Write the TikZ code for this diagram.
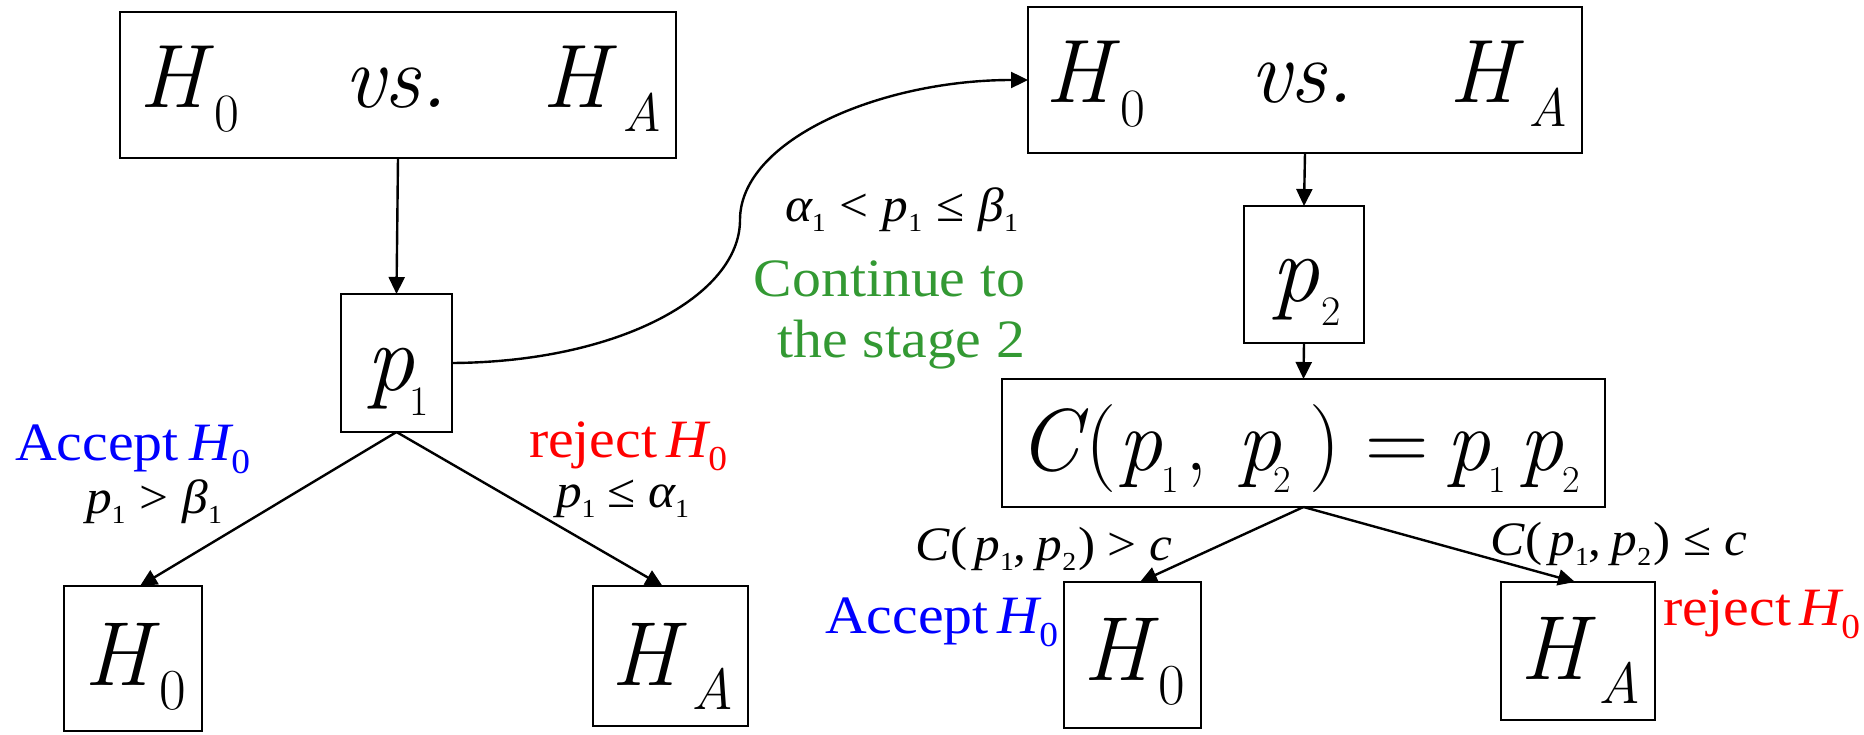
\documentclass[tikz,border=0pt]{standalone}
\usepackage{fontspec}
\newfontfamily\pal[FakeStretch=1.07]{Liberation Serif}
\usetikzlibrary{arrows.meta}
\definecolor{grn}{RGB}{51,153,51}
\definecolor{bluL}{RGB}{0,0,255}
\definecolor{redL}{RGB}{255,0,0}
\newcommand{\fb}[1]{\rmfamily\fontsize{#1pt}{#1pt}\selectfont}
\newcommand{\fs}[1]{\pal\fontsize{#1pt}{#1pt}\selectfont}
\newcommand{\lo}[3]{\raisebox{-#2pt}{\fs{#1}#3}}
\newcommand{\lb}[3]{\raisebox{-#2pt}{\fb{#1}#3}}
\newcommand{\pc}[2]{\makebox[#1pt][l]{#2}}
\newcommand{\HvsH}{\pc{75}{\fb{90}\itshape H}\pc{130}{\lb{54}{24}{\upshape 0}}\pc{199}{\fb{90}\itshape vs.}\pc{79}{\fb{90}\itshape H}\lb{54}{24}{\itshape A}}
\newcommand{\sbo}[1]{\lo{26}{10}{\upshape #1}}
\newcommand{\Cpp}{\itshape C\hspace{1pt}\upshape(\hspace{7pt}\itshape p\sbo{1}\upshape,\hspace{10pt}\itshape p\sbo{2}\hspace{2pt}\upshape)}
\begin{document}
\begin{tikzpicture}[x=1pt,y=-1pt,
  box/.style={draw, line width=2.4pt, inner sep=0pt, outer sep=0pt},
  conn/.style={line width=2.4pt, -{Triangle[length=17pt,width=16pt]}},
  txt/.style={anchor=base west, inner sep=0pt, outer sep=0pt},
  txte/.style={anchor=base east, inner sep=0pt, outer sep=0pt}]
\useasboundingbox (0,0) rectangle (1864,735);

% boxes
\node[box, minimum width=556pt, minimum height=146pt] (b1) at (398,85) {};
\node[box, minimum width=554pt, minimum height=146pt] (b2) at (1305,80) {};
\node[box, minimum width=111pt, minimum height=138pt] (p1) at (396.5,363) {};
\node[box, minimum width=120pt, minimum height=137pt] (p2) at (1304,274.5) {};
\node[box, minimum width=603pt, minimum height=128pt] (cb) at (1303.5,443) {};
\node[box, minimum width=138pt, minimum height=145pt] (h0L) at (133,658.5) {};
\node[box, minimum width=155pt, minimum height=140pt] (hAL) at (670.5,656) {};
\node[box, minimum width=137pt, minimum height=146pt] (h0R) at (1132.5,655) {};
\node[box, minimum width=154pt, minimum height=138pt] (hAR) at (1578,651) {};

% box contents
\node[txt] (t1) at (139,108) {\HvsH};
\node[txt] (t2) at (1045,103) {\HvsH};
\node[txt] (tp1) at (366,390) {\pc{43}{\fb{96}\itshape p}\lb{42}{25}{1}};
\node[txt] (tp2) at (1271,302) {\pc{50}{\fb{96}\itshape p}\lb{42}{24}{2}};
\node[txt] (tc) at (1018,470) {\fb{88}\pc{67}{\itshape C}\pc{33}{(}\pc{43}{\itshape p}\pc{24}{\lb{38}{22}{1}}\pc{52}{,}\pc{36}{\itshape p}\pc{36}{\lb{38}{22}{2}}\pc{57}{)}\pc{80}{=}\pc{42}{\itshape p}\pc{31}{\lb{38}{22}{1}}\pc{43}{\itshape p}\lb{38}{22}{2}};
\node[txt] (th0L) at (84,685) {\pc{75}{\fb{91}\itshape H}\lb{58}{24}{0}};
\node[txt] (thAL) at (611,685) {\pc{80}{\fb{91}\itshape H}\lb{58}{24}{\itshape A}};
\node[txt] (th0R) at (1083,680) {\pc{75}{\fb{91}\itshape H}\lb{58}{24}{0}};
\node[txt] (thAR) at (1520,679) {\pc{78}{\fb{91}\itshape H}\lb{58}{24}{\itshape A}};

% connectors
\draw[conn] (b1.south) -- (p1.north);
\draw[conn] (p1.south) -- ([xshift=7pt]h0L.north);
\draw[conn] (p1.south) -- ([xshift=-8pt]hAL.north);
\draw[conn] (p1.east) .. controls (620,362) and (740,295) .. (740,220)
  .. controls (740,140) and (880,80) .. (b2.west);
\draw[conn] (b2.south) -- (p2.north);
\draw[conn] (p2.south) -- (cb.north);
\draw[conn] (cb.south) -- ([xshift=7.5pt]h0R.north);
\draw[conn] (cb.south) -- ([xshift=-3pt]hAR.north);

% labels
\node[txt] (accL) at (15,460) {\color{bluL}\makebox[235pt][s]{\fs{54}Accept\hfill\itshape H\lo{35}{13}{\upshape 0}}};
\node[txt] (rejL) at (529,457) {\color{redL}\makebox[198pt][s]{\fs{54}reject\hfill\itshape H\lo{35}{13}{\upshape 0}}};
\node[txt] (cndL) at (86,513) {\makebox[136pt][s]{\fs{48}\itshape p\sbo{1}\hfill\upshape>\hfill\itshape β\sbo{1}}};
\node[txt] (cndR) at (556,507) {\makebox[133pt][s]{\fs{48}\itshape p\sbo{1}\hfill\upshape≤\hfill\itshape α\sbo{1}}};
\node[txt] (cndM) at (785,222) {\makebox[233pt][s]{\fs{48}\itshape α\sbo{1}\hfill\upshape<\hfill\itshape p\sbo{1}\hfill\upshape≤\hfill\itshape β\sbo{1}}};
\node[txte] (cont1) at (1025,297) {\color{grn}\fs{54}Continue to};
\node[txte] (cont2) at (1025,358) {\color{grn}\fs{54}the stage 2};
\node[txt] (cgt) at (915,560) {\makebox[257pt][s]{\fs{48}\Cpp\hfill\upshape>\hfill\itshape c}};
\node[txt] (cle) at (1490,555) {\makebox[257pt][s]{\fs{48}\Cpp\hfill\upshape≤\hfill\itshape c}};
\node[txt] (accR) at (825,633) {\color{bluL}\makebox[233pt][s]{\fs{54}Accept\hfill\itshape H\lo{35}{13}{\upshape 0}}};
\node[txt] (rejR) at (1663,625) {\color{redL}\makebox[197pt][s]{\fs{54}reject\hfill\itshape H\lo{35}{13}{\upshape 0}}};
\end{tikzpicture}
\end{document}
